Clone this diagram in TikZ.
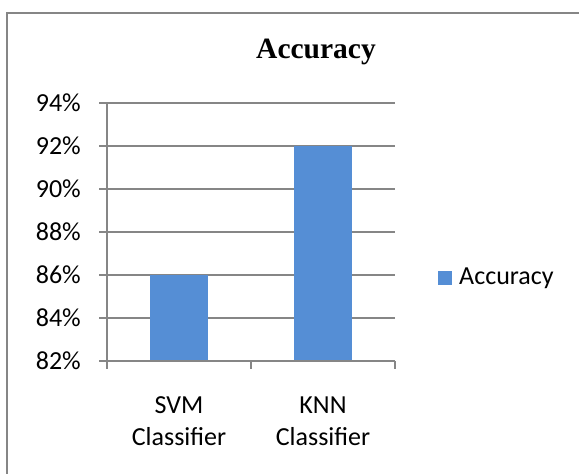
\documentclass[tikz,border=0pt]{standalone}
\usepackage{fontspec}
\setmainfont{Liberation Serif}
\newfontfamily\calibri{Carlito}
\definecolor{barblue}{HTML}{558ED5}
\definecolor{gridgray}{HTML}{868686}
\begin{document}
\begin{tikzpicture}[x=1pt,y=-1pt,
  gridline/.style={draw=gridgray,line width=1.5pt},
  framel/.style={draw=gridgray,line width=2pt},
  ylab/.style={anchor=east,inner sep=0pt,font=\calibri\fontsize{26}{31}\selectfont},
  catlab/.style={align=center,inner sep=0pt,font=\calibri\fontsize{26}{32}\selectfont},
  bar/.style={fill=barblue,draw=none}]
\useasboundingbox (0,0) rectangle (579,474);
% frame (top and left edges)
\draw[framel] (579,13) -- (7,13) -- (7,474);
% title
\node[anchor=base,inner sep=0pt,font=\bfseries\fontsize{29.5}{34}\selectfont] (title) at (316,58) {Accuracy};
% gridlines and labels
\foreach \v/\y in {94/103,92/146,90/189,88/232,86/275,84/318,82/361}{
  \draw[gridline] (99,\y) -- (395,\y);
  \node[ylab] (y\v) at (81,\y) {\v\%};
}
% bars
\fill[bar] (150,275) rectangle (207.5,361);
\fill[bar] (294,146) rectangle (351.5,361);
% axes
\draw[gridline] (107,103) -- (107,369);
\draw[gridline] (251,361) -- (251,369);
\draw[gridline] (395,361) -- (395,369);
\draw[gridline] (99,361) -- (395,361);
% category labels
\node[catlab] (svm) at (179,421) {SVM\\Classifier};
\node[catlab] (knn) at (323,421) {KNN\\Classifier};
% legend
\fill[barblue] (437.5,271) rectangle (451.5,285);
\node[anchor=base west,inner sep=0pt,font=\calibri\fontsize{26}{31}\selectfont] (leg) at (459,284.3) {Accuracy};
\end{tikzpicture}
\end{document}
